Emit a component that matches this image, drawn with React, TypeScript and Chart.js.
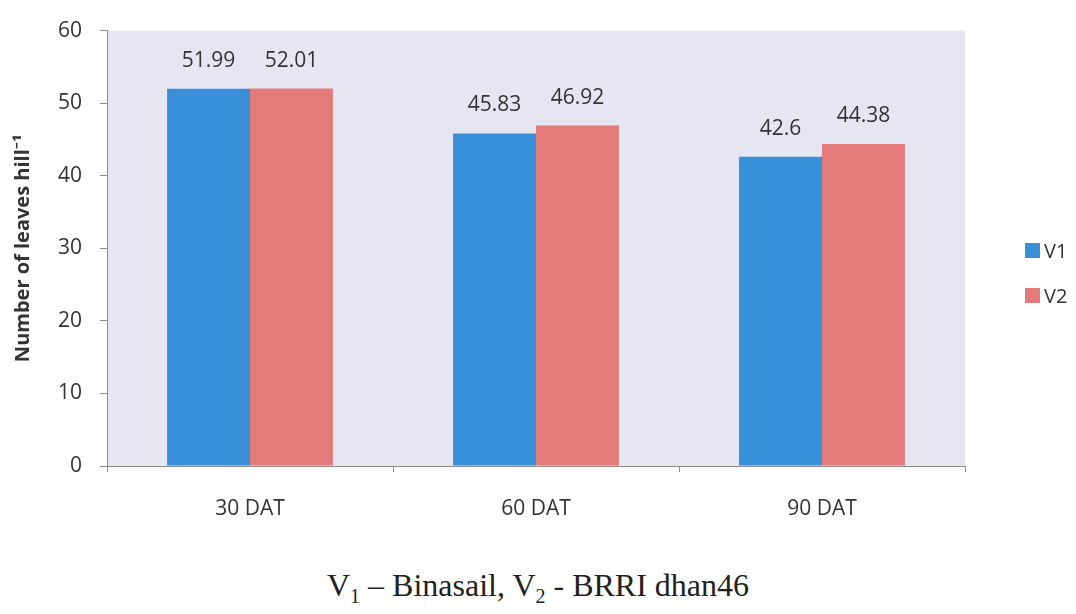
import React, { useEffect, useRef } from "react";
import { Chart, registerables } from "chart.js";

Chart.register(...registerables);

const categories = ["30 DAT", "60 DAT", "90 DAT"];
const seriesNames = ["V1", "V2"];
const v1Values = [51.99, 45.83, 42.6];
const v2Values = [52.01, 46.92, 44.38];
const v1Labels = ["51.99", "45.83", "42.6"];
const v2Labels = ["52.01", "46.92", "44.38"];
const seriesColors = ["#3a8fd9", "#e37b7b"];
const yTitle = "Number of leaves hill⁻¹";

const FONT = "'Open Sans', 'Noto Sans', sans-serif";

const bgPlugin = {
  id: "plotBg",
  beforeDraw(chart: any) {
    const { ctx, chartArea } = chart;
    ctx.save();
    ctx.fillStyle = "#e6e6f3";
    ctx.fillRect(chartArea.left, chartArea.top, chartArea.right - chartArea.left, chartArea.bottom - chartArea.top);
    ctx.restore();
  },
};

const valueLabelPlugin = {
  id: "valueLabels",
  afterDatasetsDraw(chart: any) {
    const { ctx } = chart;
    const allLabels = [v1Labels, v2Labels];
    ctx.save();
    ctx.font = `21px ${FONT}`;
    ctx.fillStyle = "#333333";
    ctx.textAlign = "center";
    ctx.textBaseline = "middle";
    chart.data.datasets.forEach((ds: any, di: number) => {
      const meta = chart.getDatasetMeta(di);
      meta.data.forEach((el: any, i: number) => {
        ctx.fillText(allLabels[di][i], el.x, el.y - 28);
      });
    });
    ctx.restore();
  },
};

export default function App() {
  const ref = useRef<HTMLCanvasElement | null>(null);

  useEffect(() => {
    if (!ref.current) return;
    const chart = new Chart(ref.current, {
      type: "bar",
      data: {
        labels: categories,
        datasets: [
          {
            label: seriesNames[0],
            data: v1Values,
            backgroundColor: seriesColors[0],
            borderWidth: 0,
            categoryPercentage: 0.58,
            barPercentage: 1.0,
          },
          {
            label: seriesNames[1],
            data: v2Values,
            backgroundColor: seriesColors[1],
            borderWidth: 0,
            categoryPercentage: 0.58,
            barPercentage: 1.0,
          },
        ],
      },
      options: {
        animation: false,
        responsive: false,
        maintainAspectRatio: false,
        layout: { padding: { left: 0, right: 111, top: 25, bottom: 0 } },
        plugins: {
          legend: { display: false },
          tooltip: { enabled: false },
        },
        scales: {
          x: {
            grid: {
              display: true,
              offset: true,
              drawOnChartArea: false,
              drawTicks: true,
              tickLength: 6,
              color: "#8c8c8c",
            },
            border: { display: true, color: "#8c8c8c", width: 1 },
            ticks: {
              color: "#333333",
              font: { family: FONT, size: 21 },
              padding: 24,
            },
            afterFit(scale: any) {
              scale.height = 74;
            },
          },
          y: {
            min: 0,
            max: 60,
            ticks: {
              stepSize: 10,
              color: "#333333",
              font: { family: FONT, size: 21 },
              padding: 18,
            },
            grid: {
              display: true,
              drawOnChartArea: false,
              drawTicks: true,
              tickLength: 7,
              color: "#8c8c8c",
            },
            border: { display: true, color: "#8c8c8c", width: 1 },
            title: {
              display: true,
              text: yTitle,
              color: "#333333",
              font: { family: FONT, size: 20, weight: "bold" },
              padding: { top: 11, bottom: 0 },
            },
            afterFit(scale: any) {
              scale.width = 107;
            },
          },
        },
      },
      plugins: [bgPlugin, valueLabelPlugin],
    });
    return () => chart.destroy();
  }, []);

  return (
    <div
      style={{
        position: "absolute",
        left: 0,
        top: 0,
        width: 1076,
        height: 614,
        background: "#ffffff",
        overflow: "hidden",
      }}
    >
      <canvas ref={ref} width={1076} height={540} style={{ position: "absolute", left: 0, top: 0 }} />
      {seriesNames.map((name, i) => (
        <div
          key={name}
          style={{
            position: "absolute",
            left: 1025,
            top: 239 + i * 45,
            height: 22,
            display: "flex",
            alignItems: "center",
            fontFamily: FONT,
            fontSize: 20,
            color: "#333333",
          }}
        >
          <span
            style={{
              display: "inline-block",
              width: 15,
              height: 15,
              background: seriesColors[i],
              marginRight: 4,
            }}
          />
          {name}
        </div>
      ))}
      <div
        style={{
          position: "absolute",
          left: 0,
          width: 1076,
          top: 568,
          lineHeight: "34px",
          textAlign: "center",
          fontFamily: "'Liberation Serif', 'Times New Roman', serif",
          fontSize: 32,
          color: "#222222",
        }}
      >
        V<sub style={{ fontSize: 20, lineHeight: 0 }}>1</sub> – Binasail, V<sub style={{ fontSize: 20, lineHeight: 0 }}>2</sub> - BRRI dhan46
      </div>
    </div>
  );
}
